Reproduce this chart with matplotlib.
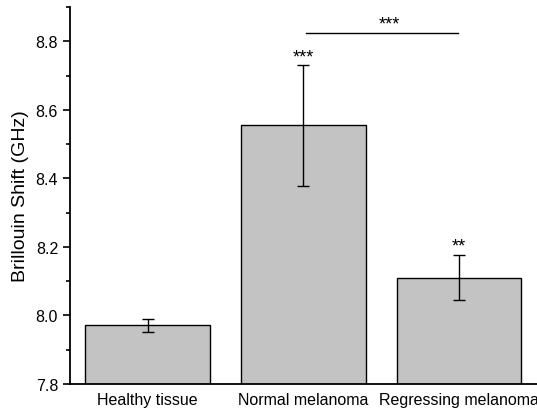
import matplotlib
matplotlib.use("Agg")
import matplotlib.pyplot as plt
from matplotlib.ticker import MultipleLocator, FormatStrFormatter

plt.rcParams['font.family'] = ['Liberation Sans', 'DejaVu Sans']

# data
groups = ['Healthy tissue', 'Normal melanoma', 'Regressing melanoma']
shift = [7.971, 8.555, 8.110]
err = [0.020, 0.177, 0.066]
stars = ['', '***', '**']
star_y = [None, 8.742, 8.190]

fig = plt.figure(figsize=(5.37, 4.10), dpi=100)
ax = fig.add_axes([0.130, 0.061, 0.870, 0.919])

x = range(len(groups))
ax.bar(x, shift, width=0.8, color='#c3c3c3', edgecolor='black', linewidth=1.0)
ax.errorbar(x, shift, yerr=err, fmt='none', ecolor='black', elinewidth=1.0,
            capsize=4, capthick=1.0)

for i, s in enumerate(stars):
    if s:
        ax.text(i, star_y[i], s, ha='center', va='baseline', fontsize=13)

# comparison bracket between normal and regressing melanoma
ax.plot([1.016, 1.994], [8.825, 8.825], color='black', linewidth=1.0)
ax.text(1.55, 8.838, '***', ha='center', va='baseline', fontsize=13)

ax.set_xlim(-0.5, 2.5)
ax.set_ylim(7.8, 8.9)
ax.yaxis.set_major_locator(MultipleLocator(0.2))
ax.yaxis.set_minor_locator(MultipleLocator(0.1))
ax.yaxis.set_major_formatter(FormatStrFormatter('%.1f'))
ax.set_xticks(list(x))
ax.set_xticklabels(groups, fontsize=11.5)
ax.tick_params(axis='x', length=0, pad=6)
ax.tick_params(axis='y', which='major', length=5, width=1.2, labelsize=11.5, direction='out')
ax.tick_params(axis='y', which='minor', length=3, width=1.2, direction='out')
ax.set_ylabel('Brillouin Shift (GHz)', fontsize=14)
ax.yaxis.set_label_coords(-0.088, 0.50)

for side in ['top', 'right']:
    ax.spines[side].set_visible(False)
for side in ['left', 'bottom']:
    ax.spines[side].set_linewidth(1.3)

fig.savefig('out.png', dpi=100)
